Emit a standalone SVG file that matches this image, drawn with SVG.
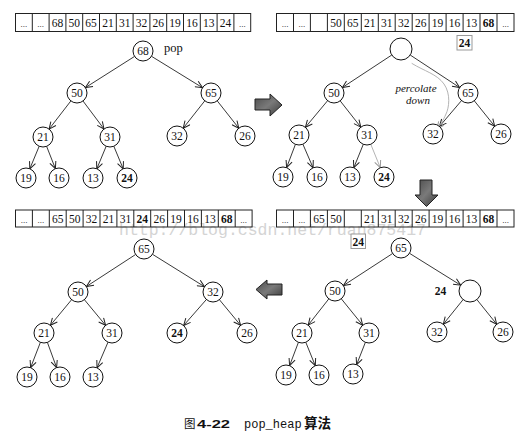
<svg xmlns="http://www.w3.org/2000/svg" width="529" height="436" viewBox="0 0 529 436">
<style>
.bg{fill:#fff}
.cell{fill:none;stroke:#222;stroke-width:1}
.ct{font-family:"Liberation Serif",serif;font-size:11.5px;text-anchor:middle;fill:#111}
.dots{font-family:"Liberation Serif",serif;font-size:9px;text-anchor:middle;fill:#111}
.b{font-weight:bold}
.node circle{fill:#fff;stroke:#111;stroke-width:1}
.node text{font-family:"Liberation Serif",serif;font-size:11.5px;text-anchor:middle;fill:#111}
.edge line{stroke:#222;stroke-width:0.9;marker-end:url(#ah)}
.edge .grey{stroke:#aaa;marker-end:url(#ahg)}
.blk{fill:url(#gr);stroke:#222;stroke-width:1}
.lbl{font-family:"Liberation Serif",serif;fill:#111}
.wm{font-family:"Liberation Mono",monospace;font-size:16.5px;fill:#d4d4d4}
</style>
<defs>
<marker id="ah" viewBox="0 0 8 8" refX="7.5" refY="4" markerWidth="8" markerHeight="8" markerUnits="userSpaceOnUse" orient="auto"><path d="M0.5,0.8 L7.5,4 L0.5,7.2" fill="none" stroke="#222" stroke-width="1"/></marker>
<marker id="ahg" viewBox="0 0 8 8" refX="7.5" refY="4" markerWidth="8" markerHeight="8" markerUnits="userSpaceOnUse" orient="auto"><path d="M0.5,0.8 L7.5,4 L0.5,7.2" fill="none" stroke="#999" stroke-width="1"/></marker>
<linearGradient id="gr" x1="0" y1="0" x2="1" y2="1"><stop offset="0" stop-color="#4a4a4a"/><stop offset="0.5" stop-color="#7a7a7a"/><stop offset="1" stop-color="#3a3a3a"/></linearGradient>
</defs>
<rect class="bg" x="0" y="0" width="529" height="436"/>

<text class="wm" x="119" y="235">http://blog.csdn.net/ruan875417</text>

<!-- Arrays -->
<g id="array1">
<rect class="cell" x="15.5" y="13.5" width="235.2" height="18"/>
<path class="cell" d="M32.3,13.5V31.5M49.1,13.5V31.5M65.9,13.5V31.5M82.7,13.5V31.5M99.5,13.5V31.5M116.3,13.5V31.5M133.1,13.5V31.5M149.9,13.5V31.5M166.7,13.5V31.5M183.5,13.5V31.5M200.3,13.5V31.5M217.1,13.5V31.5M233.9,13.5V31.5"/>
<text class="dots" x="23.9" y="27">...</text><text class="dots" x="40.7" y="27">...</text>
<text class="ct" x="57.5" y="26.5">68</text><text class="ct" x="74.3" y="26.5">50</text><text class="ct" x="91.1" y="26.5">65</text><text class="ct" x="107.9" y="26.5">21</text><text class="ct" x="124.7" y="26.5">31</text><text class="ct" x="141.5" y="26.5">32</text><text class="ct" x="158.3" y="26.5">26</text><text class="ct" x="175.1" y="26.5">19</text><text class="ct" x="191.9" y="26.5">16</text><text class="ct" x="208.7" y="26.5">13</text><text class="ct" x="225.5" y="26.5">24</text>
<text class="dots" x="242.3" y="27">...</text>
</g>
<g id="array2">
<rect class="cell" x="276.5" y="13.5" width="237.5" height="18"/>
<path class="cell" d="M293.5,13.5V31.5M310.4,13.5V31.5M327.4,13.5V31.5M344.3,13.5V31.5M361.3,13.5V31.5M378.3,13.5V31.5M395.2,13.5V31.5M412.2,13.5V31.5M429.1,13.5V31.5M446.1,13.5V31.5M463.1,13.5V31.5M480,13.5V31.5M497,13.5V31.5"/>
<text class="dots" x="285" y="27">...</text><text class="dots" x="301.9" y="27">...</text>
<text class="ct" x="335.9" y="26.5">50</text><text class="ct" x="352.8" y="26.5">65</text><text class="ct" x="369.8" y="26.5">21</text><text class="ct" x="386.7" y="26.5">31</text><text class="ct" x="403.7" y="26.5">32</text><text class="ct" x="420.7" y="26.5">26</text><text class="ct" x="437.6" y="26.5">19</text><text class="ct" x="454.6" y="26.5">16</text><text class="ct" x="471.5" y="26.5">13</text><text class="ct b" x="488.5" y="26.5">68</text>
<text class="dots" x="505.5" y="27">...</text>
</g>
<g id="array3">
<rect class="cell" x="15.5" y="210" width="236.6" height="17"/>
<path class="cell" d="M32.4,210V227M49.3,210V227M66.2,210V227M83.1,210V227M100,210V227M116.9,210V227M133.8,210V227M150.7,210V227M167.6,210V227M184.5,210V227M201.4,210V227M218.3,210V227M235.2,210V227"/>
<text class="dots" x="24" y="223">...</text><text class="dots" x="40.9" y="223">...</text>
<text class="ct" x="57.8" y="222.5">65</text><text class="ct" x="74.7" y="222.5">50</text><text class="ct" x="91.6" y="222.5">32</text><text class="ct" x="108.5" y="222.5">21</text><text class="ct" x="125.4" y="222.5">31</text><text class="ct b" x="142.3" y="222.5">24</text><text class="ct" x="159.2" y="222.5">26</text><text class="ct" x="176.1" y="222.5">19</text><text class="ct" x="193" y="222.5">16</text><text class="ct" x="209.9" y="222.5">13</text><text class="ct b" x="226.8" y="222.5">68</text>
<text class="dots" x="243.7" y="223">...</text>
</g>
<g id="array4">
<rect class="cell" x="276.5" y="210" width="237.5" height="17"/>
<path class="cell" d="M293.5,210V227M310.4,210V227M327.4,210V227M344.3,210V227M361.3,210V227M378.3,210V227M395.2,210V227M412.2,210V227M429.1,210V227M446.1,210V227M463.1,210V227M480,210V227M497,210V227"/>
<text class="dots" x="285" y="223">...</text><text class="dots" x="301.9" y="223">...</text>
<text class="ct" x="318.9" y="222.5">65</text><text class="ct" x="335.9" y="222.5">50</text><text class="ct" x="369.8" y="222.5">21</text><text class="ct" x="386.7" y="222.5">31</text><text class="ct" x="403.7" y="222.5">32</text><text class="ct" x="420.7" y="222.5">26</text><text class="ct" x="437.6" y="222.5">19</text><text class="ct" x="454.6" y="222.5">16</text><text class="ct" x="471.5" y="222.5">13</text><text class="ct b" x="488.5" y="222.5">68</text>
<text class="dots" x="505.5" y="223">...</text>
</g>

<!-- Connectors -->
<g id="connectors" class="edge">
<line x1="134.6" y1="56.4" x2="85.4" y2="87.6"/>
<line x1="151.5" y1="56.3" x2="202.5" y2="87.7"/>
<line x1="70.9" y1="100.9" x2="49.1" y2="129.1"/>
<line x1="83" y1="101" x2="104" y2="129"/>
<line x1="204.8" y1="100.8" x2="183.2" y2="128.2"/>
<line x1="217.2" y1="100.8" x2="238.8" y2="128.2"/>
<line x1="39.2" y1="146.2" x2="29.8" y2="168.8"/>
<line x1="46.6" y1="146.3" x2="55.4" y2="168.7"/>
<line x1="106.2" y1="146.2" x2="96.8" y2="168.8"/>
<line x1="113.8" y1="146.2" x2="123.2" y2="168.8"/>

<line x1="391.8" y1="55" x2="342.4" y2="87.5"/>
<line x1="410.2" y1="55" x2="459.6" y2="87.5"/>
<line x1="327.6" y1="100.7" x2="305.4" y2="127.3"/>
<line x1="340.2" y1="100.9" x2="360.8" y2="127.1"/>
<line x1="461.5" y1="100.6" x2="439.5" y2="126.4"/>
<line x1="474.3" y1="100.8" x2="494.7" y2="126.2"/>
<line x1="295.4" y1="144.4" x2="286.6" y2="167.6"/>
<line x1="302.9" y1="144.2" x2="313.1" y2="167.8"/>
<line x1="363.3" y1="144.3" x2="353.8" y2="167.7"/>
<line class="grey" x1="370.8" y1="144.3" x2="380.3" y2="167.7"/>
<path d="M411.7,63.3 C424,71 437,74 444,84 C451,94 449,108 446,114 C443,121 440,125 437,129" fill="none" stroke="#aaa" stroke-width="0.9" marker-end="url(#ahg)"/>

<line x1="135.6" y1="254.5" x2="86.4" y2="286.5"/>
<line x1="152.5" y1="254.3" x2="204.5" y2="286.7"/>
<line x1="71.6" y1="299.7" x2="50.4" y2="325.3"/>
<line x1="84.4" y1="299.7" x2="105.6" y2="325.3"/>
<line x1="206.4" y1="299.5" x2="183.6" y2="325.5"/>
<line x1="219.4" y1="299.7" x2="240.6" y2="325.3"/>
<line x1="40.4" y1="342.3" x2="30.6" y2="367.7"/>
<line x1="47.4" y1="342.4" x2="56.6" y2="367.6"/>
<line x1="108" y1="342.2" x2="97" y2="367.8"/>

<line x1="392.6" y1="253.5" x2="343.4" y2="285.5"/>
<line x1="409.5" y1="253.3" x2="460.7" y2="285.2"/>
<line x1="328.8" y1="298.9" x2="308.2" y2="325.1"/>
<line x1="341.3" y1="298.8" x2="362.7" y2="325.2"/>
<line x1="463.1" y1="299.6" x2="443.3" y2="324.2"/>
<line x1="476.9" y1="299.6" x2="496.7" y2="324.2"/>
<line x1="298.4" y1="342.4" x2="289.6" y2="365.6"/>
<line x1="305.8" y1="342.3" x2="315.3" y2="365.7"/>
<line x1="365.4" y1="342.3" x2="356.6" y2="364.7"/>
</g>

<!-- Panel 1 nodes -->
<g id="p1-68" class="node"><circle cx="143" cy="51" r="10"/><text x="143" y="55">68</text></g>
<g id="p1-50" class="node"><circle cx="77" cy="93" r="10"/><text x="77" y="97">50</text></g>
<g id="p1-65" class="node"><circle cx="211" cy="93" r="10"/><text x="211" y="97">65</text></g>
<g id="p1-21" class="node"><circle cx="43" cy="137" r="10"/><text x="43" y="141">21</text></g>
<g id="p1-31" class="node"><circle cx="110" cy="137" r="10"/><text x="110" y="141">31</text></g>
<g id="p1-32" class="node"><circle cx="177" cy="136" r="10"/><text x="177" y="140">32</text></g>
<g id="p1-26" class="node"><circle cx="245" cy="136" r="10"/><text x="245" y="140">26</text></g>
<g id="p1-19" class="node"><circle cx="26" cy="178" r="10"/><text x="26" y="182">19</text></g>
<g id="p1-16" class="node"><circle cx="59" cy="178" r="10"/><text x="59" y="182">16</text></g>
<g id="p1-13" class="node"><circle cx="93" cy="178" r="10"/><text x="93" y="182">13</text></g>
<g id="p1-24" class="node"><circle cx="127" cy="178" r="10"/><text class="b" x="127" y="182">24</text></g>
<text class="lbl" x="164" y="52" font-size="12.5">pop</text>

<!-- Panel 2 nodes -->
<g id="p2-root" class="node"><circle cx="401" cy="49" r="11"/></g>
<g id="p2-50" class="node"><circle cx="334" cy="93" r="10"/><text x="334" y="97">50</text></g>
<g id="p2-65" class="node"><circle cx="468" cy="93" r="10"/><text x="468" y="97">65</text></g>
<g id="p2-21" class="node"><circle cx="299" cy="135" r="10"/><text x="299" y="139">21</text></g>
<g id="p2-31" class="node"><circle cx="367" cy="135" r="10"/><text x="367" y="139">31</text></g>
<g id="p2-32" class="node"><circle cx="433" cy="134" r="10"/><text x="433" y="138">32</text></g>
<g id="p2-26" class="node"><circle cx="501" cy="134" r="10"/><text x="501" y="138">26</text></g>
<g id="p2-19" class="node"><circle cx="283" cy="177" r="10"/><text x="283" y="181">19</text></g>
<g id="p2-16" class="node"><circle cx="317" cy="177" r="10"/><text x="317" y="181">16</text></g>
<g id="p2-13" class="node"><circle cx="350" cy="177" r="10"/><text x="350" y="181">13</text></g>
<g id="p2-24" class="node"><circle cx="384" cy="177" r="10"/><text class="b" x="384" y="181">24</text></g>
<g id="p2-hold"><rect x="457" y="35.5" width="15" height="14.5" fill="#fff" stroke="#999" stroke-width="1"/><text class="ct b" x="464.5" y="47">24</text></g>
<text class="lbl" x="416" y="92" font-size="11" font-style="italic" text-anchor="middle">percolate</text>
<text class="lbl" x="418" y="104" font-size="11" font-style="italic" text-anchor="middle">down</text>

<!-- Panel 3 nodes -->
<g id="p3-65" class="node"><circle cx="144" cy="249" r="10"/><text x="144" y="253">65</text></g>
<g id="p3-50" class="node"><circle cx="78" cy="292" r="10"/><text x="78" y="296">50</text></g>
<g id="p3-32" class="node"><circle cx="213" cy="292" r="10"/><text x="213" y="296">32</text></g>
<g id="p3-21" class="node"><circle cx="44" cy="333" r="10"/><text x="44" y="337">21</text></g>
<g id="p3-31" class="node"><circle cx="112" cy="333" r="10"/><text x="112" y="337">31</text></g>
<g id="p3-24" class="node"><circle cx="177" cy="333" r="10"/><text class="b" x="177" y="337">24</text></g>
<g id="p3-26" class="node"><circle cx="247" cy="333" r="10"/><text x="247" y="337">26</text></g>
<g id="p3-19" class="node"><circle cx="27" cy="377" r="10"/><text x="27" y="381">19</text></g>
<g id="p3-16" class="node"><circle cx="60" cy="377" r="10"/><text x="60" y="381">16</text></g>
<g id="p3-13" class="node"><circle cx="93" cy="377" r="10"/><text x="93" y="381">13</text></g>

<!-- Panel 4 nodes -->
<g id="p4-65" class="node"><circle cx="401" cy="248" r="10"/><text x="401" y="252">65</text></g>
<g id="p4-50" class="node"><circle cx="335" cy="291" r="10"/><text x="335" y="295">50</text></g>
<g id="p4-hole" class="node"><circle cx="470" cy="291" r="11"/></g>
<text class="ct b" x="440.5" y="295">24</text>
<g id="p4-21" class="node"><circle cx="302" cy="333" r="10"/><text x="302" y="337">21</text></g>
<g id="p4-31" class="node"><circle cx="369" cy="333" r="10"/><text x="369" y="337">31</text></g>
<g id="p4-32" class="node"><circle cx="437" cy="332" r="10"/><text x="437" y="336">32</text></g>
<g id="p4-26" class="node"><circle cx="503" cy="332" r="10"/><text x="503" y="336">26</text></g>
<g id="p4-19" class="node"><circle cx="286" cy="375" r="10"/><text x="286" y="379">19</text></g>
<g id="p4-16" class="node"><circle cx="319" cy="375" r="10"/><text x="319" y="379">16</text></g>
<g id="p4-13" class="node"><circle cx="353" cy="374" r="10"/><text x="353" y="378">13</text></g>
<g id="p4-hold"><rect x="351" y="234" width="14.5" height="14.5" fill="#fff" stroke="#999" stroke-width="1"/><text class="ct b" x="358.2" y="245.5">24</text></g>

<!-- Block arrows -->
<polygon class="blk" points="255,99 270,99 270,94 282,105 270,116 270,110 255,110"/>
<polygon class="blk" points="420,180 432,180 432,195 438,195 426.5,206.5 415,195 420,195"/>
<polygon class="blk" points="282,284 267,284 267,280 256,289.5 267,299 267,295 282,295"/>

<!-- Caption -->
<g id="caption">
<text x="184" y="428" font-family="'Noto Sans CJK SC',sans-serif" font-size="11.5" fill="#111">图</text>
<text x="197" y="428" font-family="'Liberation Sans',sans-serif" font-size="11" font-weight="bold" textLength="33" lengthAdjust="spacingAndGlyphs" fill="#111">4-22</text>
<text x="244" y="428" font-family="'Liberation Mono',monospace" font-size="12" fill="#111">pop_heap</text>
<text x="304" y="428" font-family="'Noto Sans CJK SC',sans-serif" font-size="13.5" font-weight="bold" fill="#111">算法</text>
</g>
</svg>
